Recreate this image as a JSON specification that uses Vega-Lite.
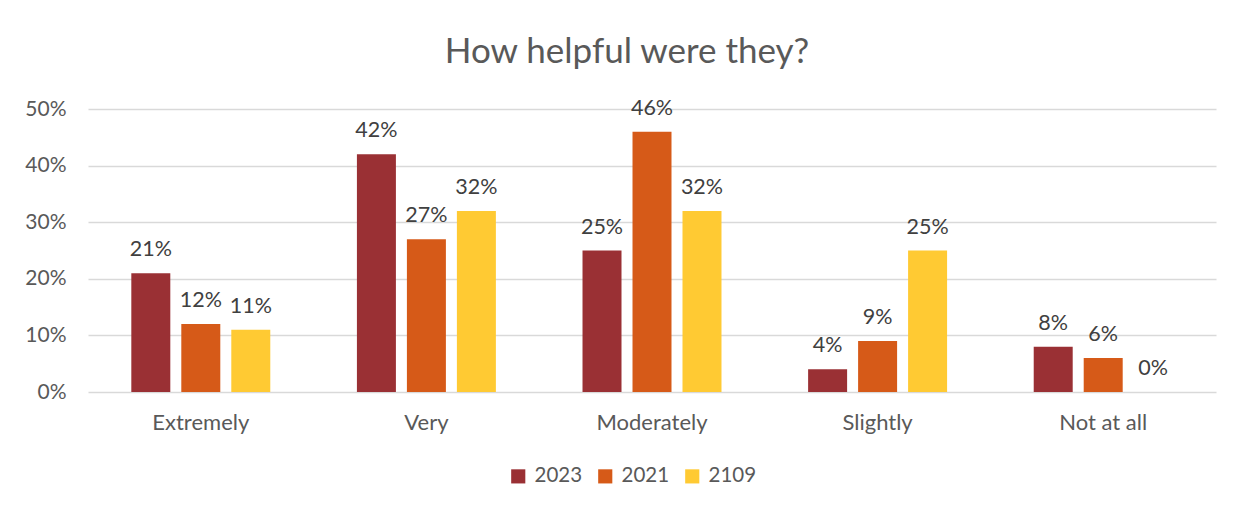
{
  "$schema": "https://vega.github.io/schema/vega-lite/v6.json",
  "width": 1128,
  "height": 283,
  "autosize": {"type": "none"},
  "padding": {"left": 88, "top": 109, "right": 28, "bottom": 118},
  "background": "white",
  "title": {
    "text": "How helpful were they?",
    "font": "Lato",
    "fontSize": 35,
    "fontWeight": "normal",
    "color": "#595959",
    "anchor": "middle",
    "dx": -25,
    "offset": 28
  },
  "data": {
    "values": [
      {"cat": "Extremely", "year": "2023", "value": 0.21},
      {"cat": "Extremely", "year": "2021", "value": 0.12},
      {"cat": "Extremely", "year": "2109", "value": 0.11},
      {"cat": "Very", "year": "2023", "value": 0.42},
      {"cat": "Very", "year": "2021", "value": 0.27},
      {"cat": "Very", "year": "2109", "value": 0.32},
      {"cat": "Moderately", "year": "2023", "value": 0.25},
      {"cat": "Moderately", "year": "2021", "value": 0.46},
      {"cat": "Moderately", "year": "2109", "value": 0.32},
      {"cat": "Slightly", "year": "2023", "value": 0.04},
      {"cat": "Slightly", "year": "2021", "value": 0.09},
      {"cat": "Slightly", "year": "2109", "value": 0.25},
      {"cat": "Not at all", "year": "2023", "value": 0.08},
      {"cat": "Not at all", "year": "2021", "value": 0.06},
      {"cat": "Not at all", "year": "2109", "value": 0.0}
    ]
  },
  "encoding": {
    "x": {
      "field": "cat",
      "type": "nominal",
      "sort": null,
      "scale": {"paddingInner": 0.384, "paddingOuter": 0.192},
      "axis": {
        "title": null,
        "labelAngle": 0,
        "domain": false,
        "ticks": false,
        "tickSize": 0,
        "labelPadding": 20,
        "labelFont": "Lato",
        "labelFontSize": 22,
        "labelColor": "#595959"
      }
    },
    "xOffset": {
      "field": "year",
      "type": "nominal",
      "sort": ["2023", "2021", "2109"],
      "scale": {"paddingInner": 0.22, "paddingOuter": 0}
    },
    "y": {
      "field": "value",
      "type": "quantitative",
      "scale": {"domain": [0, 0.5], "nice": false},
      "axis": {
        "title": null,
        "format": ".0%",
        "values": [0, 0.1, 0.2, 0.3, 0.4, 0.5],
        "labelOverlap": false,
        "domain": false,
        "ticks": false,
        "tickSize": 0,
        "labelPadding": 22,
        "labelFont": "Lato",
        "labelFontSize": 21,
        "labelColor": "#595959",
        "gridColor": "#D9D9D9",
        "gridWidth": 1.5
      }
    }
  },
  "layer": [
    {
      "mark": {"type": "bar"},
      "encoding": {
        "color": {
          "field": "year",
          "type": "nominal",
          "scale": {
            "domain": ["2023", "2021", "2109"],
            "range": ["#9A3034", "#D65A18", "#FFCA33"]
          },
          "legend": {
            "title": null,
            "orient": "none",
            "legendX": 420,
            "legendY": 357,
            "direction": "horizontal",
            "symbolType": "square",
            "symbolSize": 200,
            "symbolStrokeWidth": 0,
            "labelFont": "Lato",
            "labelFontSize": 20.5,
            "labelColor": "#595959",
            "labelOffset": 6,
            "columnPadding": 12
          }
        }
      }
    },
    {
      "mark": {
        "type": "text",
        "baseline": "bottom",
        "dy": -12,
        "font": "Lato",
        "fontSize": 21.5,
        "color": "#404040"
      },
      "encoding": {
        "text": {"field": "value", "type": "quantitative", "format": ".0%"}
      }
    }
  ],
  "config": {
    "view": {"stroke": null}
  }
}
